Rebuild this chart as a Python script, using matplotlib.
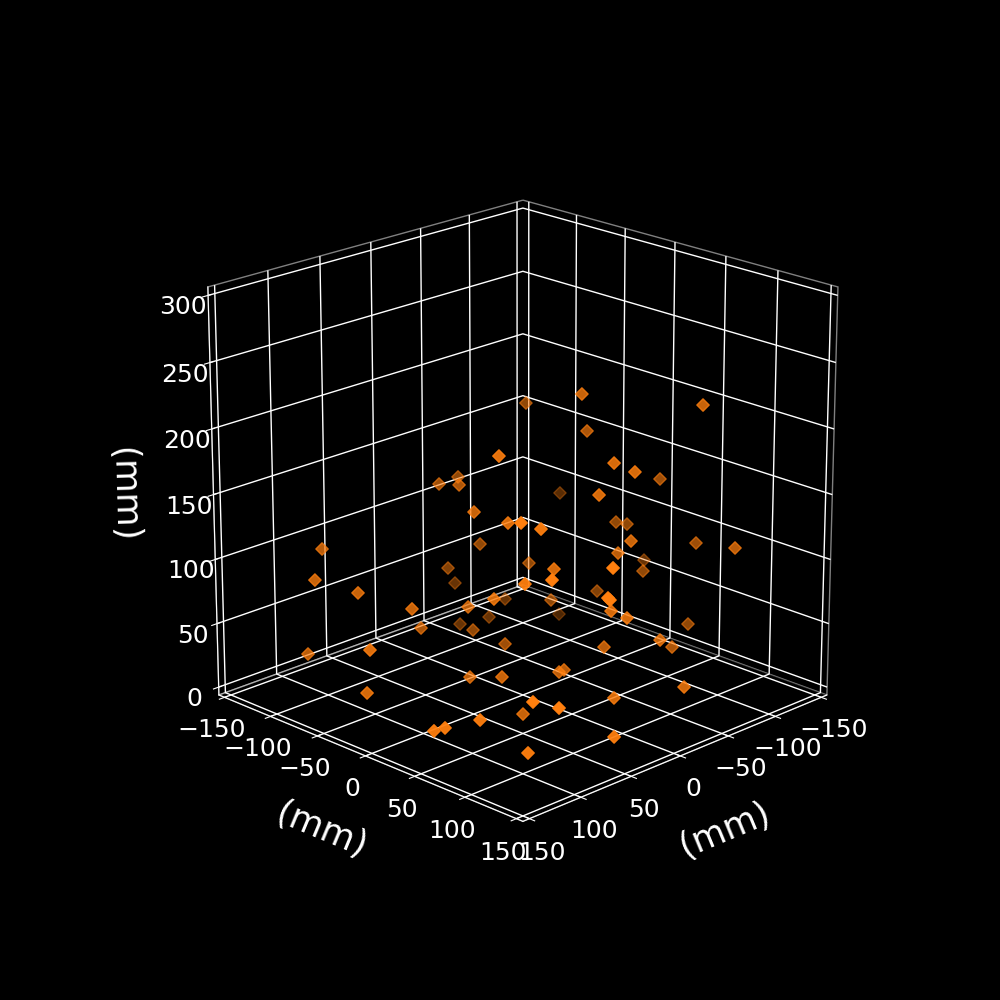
import matplotlib
matplotlib.use("Agg")
import matplotlib.pyplot as plt

plt.style.use("dark_background")
plt.rcParams["axes3d.automargin"] = True
plt.rcParams["grid.linewidth"] = 1.0

xs = [54.4, -1.5, 22.9, 26.5, 50.4, 48.2, 80.1, -1.0, 119.8, 141.4, 122.1, 5.7, -23.2, 97.9, 68.0, -46.6, 56.4, -35.0,
      -49.3, -23.6, -82.2, -47.6, -14.6, -23.4, -90.6, -109.4, -1.7, 58.9, -74.6, -79.9, -23.0, -97.8, -87.9, -28.2,
      -126.4, -79.9, 42.9, -22.8, 33.2, 74.5, 76.0, -67.2, 50.3, 49.7, 12.0, -27.6, -102.1, 5.3, 70.5, 144.9, 144.7,
      144.8, -18.5, 17.7, 17.1, 67.5, 64.6, 60.4, 120.7, 139.2, 144.7, 102.8, -93.7, -20.6, -53.2, -5.0, 21.9, 19.0,
      -15.1, 25.3, 104.0, 92.4, 55.5]
ys = [30.8, -68.1, -62.6, -38.1, 1.6, 33.4, 78.3, -45.0, -82.1, -66.2, -42.5, -71.7, -94.4, -12.8, 39.3, -65.3, 1.3,
      -70.5, -46.2, 35.3, 97.6, 17.3, 75.8, 87.7, 49.1, -70.3, 73.8, 76.6, 20.9, 26.9, 84.9, 78.6, 125.3, 67.4, 0.5,
      43.3, 130.5, -16.6, 64.0, 102.8, 78.0, 9.4, 133.0, 134.3, 99.4, 1.2, -63.7, 108.5, -32.6, -71.1, -6.4, -9.9,
      -84.4, -33.5, -1.1, 14.3, 43.7, 60.5, 78.8, 63.0, 57.7, 107.8, 75.7, 116.3, 97.7, 76.5, 58.2, 60.3, 145.0,
      115.6, 113.8, 127.5, 144.8]
zs = [200.9, 145.7, 147.9, 154.4, 150.3, 149.8, 170.2, 99.6, 118.3, 104.8, 96.2, 75.3, 49.2, 85.5, 99.3, 38.0, 79.3,
      25.3, 196.5, 229.2, 221.8, 191.0, 189.6, 183.7, 151.3, 104.7, 168.4, 159.6, 114.7, 113.3, 130.9, 107.6, 119.0,
      115.6, 65.3, 81.0, 140.9, 86.5, 119.2, 133.0, 123.6, 59.4, 121.3, 120.0, 91.3, 61.1, 10.6, 86.7, 57.4, 47.6,
      69.4, 35.6, 20.4, 40.5, 38.7, 32.1, 40.0, 15.2, 34.5, 29.3, 27.1, 12.9, 44.6, 64.7, 44.5, 52.3, 35.5, 36.9,
      38.7, 33.6, 53.6, 49.7, 21.9]

fig = plt.figure(figsize=(10, 10))
ax = fig.add_subplot(111, projection="3d")
ax.scatter(xs, ys, zs, marker="D", s=40, c="#ff7f0e")
ax.set_xlim(-150, 150)
ax.set_ylim(-150, 150)
ax.set_zlim(0, 300)
ax.set_box_aspect((1, 1, 0.992), zoom=0.953)
ax.set_xlabel("(mm)", fontsize=25, labelpad=19)
ax.set_ylabel("(mm)", fontsize=25, labelpad=19)
ax.set_zlabel("(mm)", fontsize=25, labelpad=21)
ax.tick_params(labelsize=18)
ax.view_init(elev=20, azim=45)
for a in (ax.xaxis, ax.yaxis, ax.zaxis):
    a.set_rotate_label(True)
    a.pane.set_facecolor((0, 0, 0, 1))
    a.pane.set_edgecolor("#ffffff")
plt.savefig("out.png", dpi=100)
plt.close()
